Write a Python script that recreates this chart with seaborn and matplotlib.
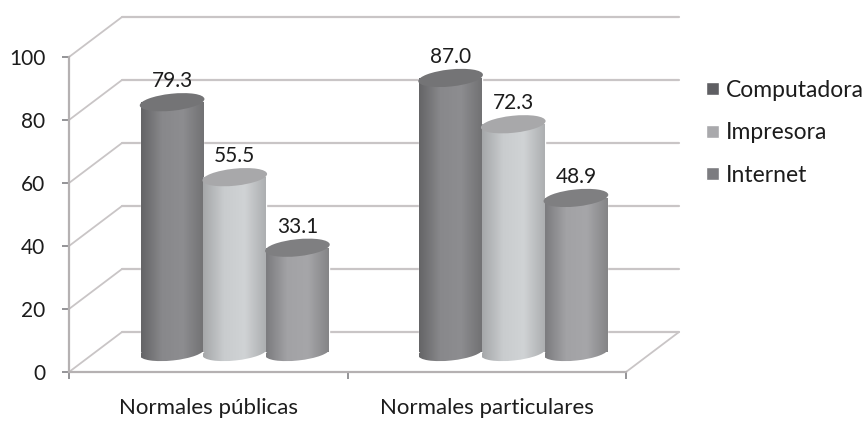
#!/usr/bin/env python3
# Equipamiento en normales: cylinders on a fake 3D floor and wall

import numpy as np
import pandas as pd
import seaborn as sns
import matplotlib.pyplot as plt
from matplotlib.colors import LinearSegmentedColormap
from matplotlib.patches import Ellipse
from matplotlib.transforms import IdentityTransform

groups = ["Normales públicas", "Normales particulares"]
series = ["Computadora", "Impresora", "Internet"]
computadora = [79.3, 87.0]
impresora = [55.5, 72.3]
internet = [33.1, 48.9]
y_ticks = [0, 20, 40, 60, 80, 100]

legend_colors = ["#5f5f63", "#a9a9ac", "#7c7c80"]
body_shades = [
    ["#656567", "#88888b", "#8d8d90", "#727274"],
    ["#a6a8aa", "#c9ccce", "#d0d3d5", "#adafb1"],
    ["#7c7c7f", "#a2a2a5", "#a6a6a9", "#858587"],
]
top_colors = ["#747476", "#a8a8aa", "#7f7f81"]
grid_color = "#c9c5c6"

W, H = 863, 421
DEPTH_X, DEPTH_Y = 53, 40  # wall offset in pixels

sns.set_theme(style="white")
plt.rcParams["font.family"] = ["Lato", "DejaVu Sans"]
plt.rcParams["text.color"] = "#1c1c1c"

fig = plt.figure(figsize=(W / 100, H / 100), dpi=100, facecolor="white")


def px_axes(left, bottom, width, height):
    return fig.add_axes([left / W, bottom / H, width / W, height / H])


# front frame, wall and bars axes share one scale, only shifted
frame_ax = px_axes(69, H - 372, 557, 315)
wall_ax = px_axes(69 + DEPTH_X, H - 372 + DEPTH_Y, 557, 315)
bar_ax = px_axes(69 + DEPTH_X / 2, H - 372 + DEPTH_Y / 2, 557, 315)

for a in (frame_ax, wall_ax, bar_ax):
    a.set_xlim(-0.5, 1.5)
    a.set_ylim(0, 100)
    a.patch.set_alpha(0)

# wall lines
wall_ax.axis("off")
for v in y_ticks:
    wall_ax.axhline(v, color=grid_color, lw=1.6, clip_on=False)

# diagonals from the front ticks to the wall
dx = 2 * DEPTH_X / 557
dy = 100 * DEPTH_Y / 315
for v in y_ticks:
    frame_ax.plot([-0.5, -0.5 + dx], [v, v + dy], color=grid_color, lw=1.3, clip_on=False)
frame_ax.plot([1.5, 1.5 + dx], [0, dy], color=grid_color, lw=1.3, clip_on=False)

# front axes
sns.despine(ax=frame_ax)
for side in ("left", "bottom"):
    frame_ax.spines[side].set_color("#b5b1b2")
    frame_ax.spines[side].set_linewidth(1.6)
frame_ax.set_yticks(y_ticks)
frame_ax.set_xticks([-0.5, 0.5, 1.5], ["", "", ""])
frame_ax.set_xticks([0, 1], groups, minor=True)
frame_ax.tick_params(axis="both", which="major", left=True, bottom=True, length=5, width=1.1,
                     color="#77777a", labelsize=15, labelcolor="#1c1c1c", pad=12)
frame_ax.tick_params(axis="x", which="minor", bottom=False, labelsize=16, labelcolor="#1c1c1c", pad=15)

# bars
df = pd.DataFrame({
    "grupo": groups * 3,
    "equipo": np.repeat(series, len(groups)),
    "porcentaje": computadora + impresora + internet,
})
sns.barplot(data=df, x="grupo", y="porcentaje", hue="equipo", hue_order=series,
            palette=legend_colors, width=0.675, gap=0, saturation=1, ax=bar_ax)
bar_ax.set_xlim(-0.5, 1.5)
bar_ax.set_ylim(0, 100)
bar_ax.axis("off")

ELL_W, ELL_H, ANGLE = 65, 17, 6
ell_drop = 100 * 12 / 315

for i, container in enumerate(list(bar_ax.containers)):
    cmap = LinearSegmentedColormap.from_list("cyl%d" % i, body_shades[i])
    shade = np.linspace(0, 1, 64).reshape(1, -1)
    bar_ax.bar_label(container, fmt="%.1f", padding=8, fontsize=15, color="#1c1c1c", zorder=8)
    for rect in container.patches:
        x0, w, h = rect.get_x(), rect.get_width(), rect.get_height()
        ext = [x0, x0 + w, -ell_drop, h]
        cx = x0 + w / 2
        base_px = bar_ax.transData.transform((cx, 0))
        top_px = bar_ax.transData.transform((cx, h))

        # rounded foot sticks out below the axes, so widen the clip box
        base = Ellipse(base_px, ELL_W, ELL_H, angle=ANGLE, facecolor="none", edgecolor="none",
                       transform=IdentityTransform())
        bar_ax.add_patch(base)
        im = bar_ax.imshow(shade, cmap=cmap, extent=ext, aspect="auto", zorder=3)
        im.set_clip_path(rect)
        im = bar_ax.imshow(shade, cmap=cmap, extent=ext, aspect="auto", zorder=3)
        im.set_clip_path(base)
        im.set_clip_box(fig.bbox)

        top = Ellipse(top_px, ELL_W, ELL_H, angle=ANGLE, facecolor=top_colors[i],
                      edgecolor="none", transform=IdentityTransform(), zorder=5, clip_on=False)
        bar_ax.add_patch(top)

bar_ax.set_xlim(-0.5, 1.5)
bar_ax.set_ylim(0, 100)

# legend
sns.move_legend(bar_ax, "upper left", bbox_to_anchor=(706 / W, (H - 80) / H),
                bbox_transform=fig.transFigure, title=None, frameon=False, fontsize=16.5,
                handlelength=0.56, handleheight=0.5, handletextpad=0.3,
                labelspacing=0.93, borderpad=0, borderaxespad=0)

fig.savefig("out.png", dpi=100)
